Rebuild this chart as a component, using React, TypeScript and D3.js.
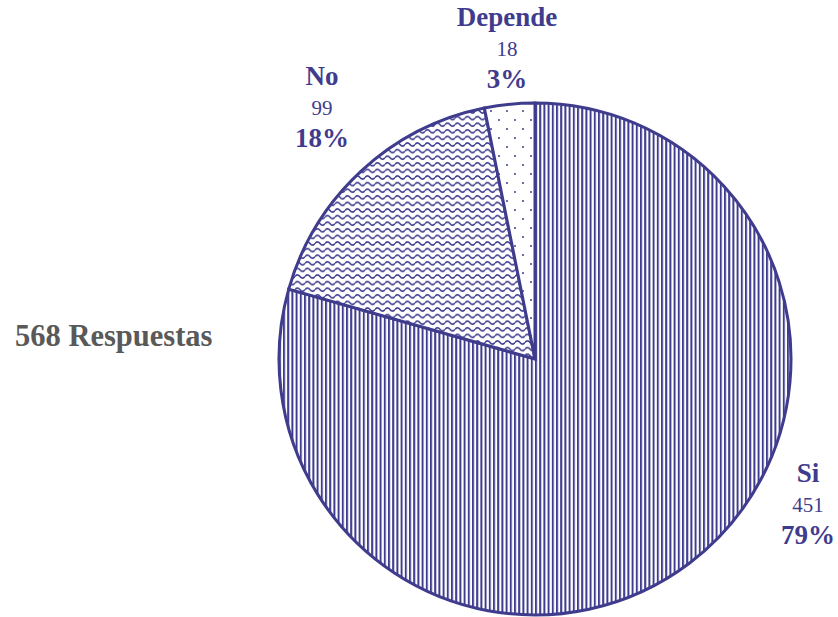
import React from "react";
import * as d3 from "d3";

const categories = ["Si", "No", "Depende"];
const counts = [451, 99, 18];
const percentLabels = ["79%", "18%", "3%"];
const totalLabel = "568 Respuestas";
const patterns = ["pat-lines", "pat-waves", "pat-dots"];

const W = 838;
const H = 617;
const CX = 535;
const CY = 359;
const R = 256;
const COLOR = "#3F3C8E";
const FONT = "Liberation Serif";

const labelPos = [
  { x: 808, y: 482 },
  { x: 322, y: 85 },
  { x: 507, y: 25.5 },
];

export default function App() {
  const pie = d3
    .pie<number>()
    .sort(null)
    .value((d) => d)(counts);
  const arc = d3.arc<d3.PieArcDatum<number>>().innerRadius(0).outerRadius(R);

  return (
    <svg
      width={W}
      height={H}
      style={{ position: "absolute", left: 0, top: 0, background: "#fff" }}
    >
      <defs>
        <pattern id="pat-lines" patternUnits="userSpaceOnUse" width={4.2} height={10}>
          <rect width={4.2} height={10} fill="#fff" />
          <rect x={0} y={0} width={2} height={10} fill={COLOR} />
        </pattern>
        <pattern id="pat-waves" patternUnits="userSpaceOnUse" width={10} height={6.6}>
          <rect width={10} height={6.6} fill="#fff" />
          <path
            d="M0,3.3 Q2.5,0.2 5,3.3 T10,3.3"
            fill="none"
            stroke={COLOR}
            strokeWidth={1.6}
          />
        </pattern>
        <pattern id="pat-dots" patternUnits="userSpaceOnUse" width={16} height={18}>
          <rect width={16} height={18} fill="#fff" />
          <circle cx={4} cy={4} r={1} fill={COLOR} />
          <circle cx={12} cy={13} r={1} fill={COLOR} />
        </pattern>
      </defs>
      <g transform={`translate(${CX},${CY})`}>
        {pie.map((d, i) => (
          <path
            key={categories[i]}
            d={arc(d) || ""}
            fill={`url(#${patterns[i]})`}
            stroke={COLOR}
            strokeWidth={3}
          />
        ))}
      </g>
      {categories.map((c, i) => (
        <g key={c} fill={COLOR} style={{ fontFamily: FONT }} textAnchor="middle">
          <text x={labelPos[i].x} y={labelPos[i].y} fontSize={27} fontWeight="bold">
            {c}
          </text>
          <text x={labelPos[i].x} y={labelPos[i].y + 30} fontSize={21}>
            {counts[i]}
          </text>
          <text x={labelPos[i].x} y={labelPos[i].y + 62} fontSize={27} fontWeight="bold">
            {percentLabels[i]}
          </text>
        </g>
      ))}
      <text
        x={15}
        y={346}
        fontSize={30.5}
        fontWeight="bold"
        fill="#595959"
        style={{ fontFamily: FONT }}
      >
        {totalLabel}
      </text>
    </svg>
  );
}
